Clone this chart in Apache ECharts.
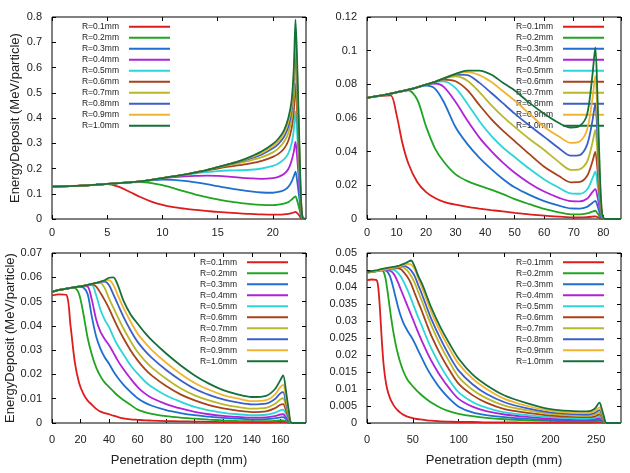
<!DOCTYPE html>
<html><head><meta charset="utf-8">
<script src="https://cdn.jsdelivr.net/npm/echarts@6/dist/echarts.min.js"></script>
<style>html,body{margin:0;padding:0;background:#fff}#c{width:630px;height:473px}</style>
</head><body><div id="c"></div>
<script>
const seriesNames = ['R=0.1mm','R=0.2mm','R=0.3mm','R=0.4mm','R=0.5mm','R=0.6mm','R=0.7mm','R=0.8mm','R=0.9mm','R=1.0mm'];
const seriesColors = ['#dd1c1c','#1fa51f','#1f6fd0','#b022d8','#2ad6d8','#a8421a','#b8b82a','#3a5fc8','#f0b430','#16703a'];

// Panel 1 (top-left)
const p1X = [0,2,4,5,6,7,8,9,10,11,12,13,14,15,16,17,18,19,20,20.5,21,21.4,21.7,21.9,22.05,22.2,22.4,22.55,22.7,23];
const p1R01 = [0.128,0.131,0.136,0.138,0.128,0.108,0.087,0.069,0.056,0.047,0.041,0.036,0.032,0.028,0.025,0.022,0.020,0.018,0.017,0.017,0.018,0.020,0.023,0.026,0.028,0.023,0.013,0.004,0.0005,0];
const p1R02 = [0.128,0.131,0.136,0.139,0.142,0.145,0.146,0.142,0.134,0.122,0.109,0.097,0.087,0.078,0.070,0.064,0.059,0.056,0.055,0.057,0.061,0.067,0.077,0.085,0.090,0.072,0.040,0.012,0.001,0];
const p1R03 = [0.128,0.131,0.136,0.139,0.142,0.145,0.149,0.153,0.156,0.155,0.151,0.145,0.138,0.130,0.122,0.115,0.109,0.105,0.104,0.107,0.114,0.127,0.148,0.170,0.188,0.150,0.080,0.022,0.002,0];
const p1R04 = [0.128,0.131,0.136,0.139,0.142,0.145,0.149,0.155,0.161,0.166,0.169,0.171,0.172,0.171,0.168,0.164,0.161,0.159,0.162,0.167,0.178,0.198,0.232,0.268,0.305,0.245,0.125,0.035,0.003,0];
const p1R05 = [0.128,0.131,0.136,0.139,0.142,0.145,0.149,0.155,0.162,0.169,0.175,0.181,0.186,0.190,0.192,0.193,0.195,0.200,0.210,0.220,0.236,0.260,0.300,0.355,0.425,0.340,0.170,0.045,0.003,0];
const p1R06 = [0.128,0.131,0.136,0.139,0.142,0.145,0.149,0.155,0.162,0.169,0.176,0.184,0.192,0.200,0.207,0.213,0.220,0.230,0.246,0.258,0.278,0.310,0.360,0.430,0.535,0.420,0.210,0.055,0.004,0];
const p1R07 = [0.128,0.131,0.136,0.139,0.142,0.145,0.149,0.155,0.162,0.169,0.176,0.185,0.194,0.204,0.213,0.222,0.232,0.245,0.264,0.280,0.305,0.340,0.400,0.490,0.610,0.480,0.235,0.062,0.004,0];
const p1R08 = [0.128,0.131,0.136,0.139,0.142,0.145,0.149,0.155,0.162,0.169,0.176,0.185,0.194,0.205,0.216,0.227,0.240,0.256,0.280,0.298,0.325,0.365,0.430,0.540,0.690,0.540,0.260,0.070,0.005,0];
const p1R09 = [0.128,0.131,0.136,0.139,0.142,0.145,0.149,0.155,0.162,0.169,0.176,0.185,0.194,0.205,0.217,0.229,0.244,0.262,0.288,0.308,0.338,0.385,0.450,0.570,0.745,0.580,0.280,0.075,0.005,0];
const p1R10 = [0.128,0.131,0.136,0.139,0.142,0.145,0.149,0.155,0.162,0.169,0.176,0.185,0.194,0.205,0.217,0.230,0.247,0.268,0.297,0.318,0.350,0.400,0.470,0.600,0.790,0.620,0.300,0.080,0.005,0];

// Panel 2 (top-right)
const p2X = [0,5,8,10,12,14,17,20,23,26,30,34,38,42,46,50,55,60,65,69,72,74.5,76.3,77.3,78,78.7,79.5,80.5,86];
const p2R01 = [0.0722,0.0732,0.0735,0.062,0.045,0.033,0.022,0.016,0.0125,0.0102,0.0085,0.0072,0.0062,0.0053,0.0045,0.0037,0.0028,0.002,0.0014,0.001,0.0009,0.0011,0.0014,0.0016,0.0012,0.0006,0.0001,0,0];
const p2R02 = [0.072,0.0735,0.0745,0.0752,0.076,0.0765,0.071,0.055,0.042,0.034,0.0265,0.0225,0.0198,0.0175,0.0148,0.0118,0.0088,0.006,0.004,0.0028,0.0027,0.0033,0.0044,0.0049,0.0035,0.0017,0.0003,0,0];
const p2R03 = [0.072,0.0735,0.0745,0.0752,0.076,0.0768,0.0782,0.0792,0.0775,0.0695,0.0545,0.0445,0.0365,0.0298,0.0238,0.0188,0.0143,0.0106,0.0079,0.0063,0.0062,0.0072,0.0095,0.0108,0.008,0.004,0.0006,0,0];
const p2R04 = [0.072,0.0735,0.0745,0.0752,0.076,0.0768,0.0782,0.0798,0.0805,0.0785,0.0695,0.0585,0.0485,0.0405,0.0335,0.0275,0.0213,0.0163,0.0126,0.0106,0.0105,0.012,0.016,0.0177,0.0135,0.007,0.001,0,0];
const p2R05 = [0.072,0.0735,0.0745,0.0752,0.076,0.0768,0.0782,0.0798,0.0815,0.0818,0.0778,0.0685,0.0582,0.0495,0.0425,0.0368,0.0298,0.0235,0.0186,0.0152,0.015,0.0175,0.024,0.0281,0.021,0.011,0.0015,0,0];
const p2R06 = [0.072,0.0735,0.0745,0.0752,0.076,0.0768,0.0782,0.0798,0.0815,0.0828,0.0818,0.0765,0.0678,0.0595,0.0525,0.0463,0.0385,0.031,0.0255,0.0218,0.022,0.0255,0.034,0.0399,0.03,0.015,0.002,0,0];
const p2R07 = [0.072,0.0735,0.0745,0.0752,0.076,0.0768,0.0782,0.0798,0.0815,0.0835,0.0848,0.0822,0.0755,0.0678,0.0608,0.0547,0.0475,0.041,0.0338,0.0292,0.0295,0.034,0.045,0.053,0.04,0.02,0.003,0,0];
const p2R08 = [0.072,0.0735,0.0745,0.0752,0.076,0.0768,0.0782,0.0798,0.0815,0.0835,0.0858,0.0855,0.081,0.075,0.0688,0.0626,0.0555,0.0488,0.042,0.0376,0.038,0.044,0.058,0.0685,0.05,0.025,0.003,0,0];
const p2R09 = [0.072,0.0735,0.0745,0.0752,0.076,0.0768,0.0782,0.0798,0.0815,0.0835,0.0862,0.0872,0.0855,0.0815,0.076,0.0704,0.0625,0.0547,0.049,0.0452,0.046,0.053,0.071,0.085,0.062,0.03,0.004,0,0];
const p2R10 = [0.072,0.0735,0.0745,0.0752,0.076,0.0768,0.0782,0.0798,0.0815,0.0835,0.0862,0.0882,0.0882,0.0858,0.081,0.0763,0.069,0.0625,0.057,0.0543,0.0552,0.062,0.085,0.102,0.075,0.035,0.005,0,0];

// Panel 3 (bottom-left)
const p3X = [0,5,10,13,16,19,22,25,28,31,34,37,40,43,46,50,55,60,65,70,80,90,100,110,120,130,140,150,156,160,162,164,166,168,178];
const p3R01 = [0.0525,0.053,0.0528,0.040,0.025,0.0165,0.012,0.0092,0.0075,0.0058,0.0047,0.0041,0.0036,0.003,0.0025,0.0019,0.0015,0.0013,0.0011,0.001,0.0008,0.0007,0.0006,0.0005,0.0004,0.0004,0.0003,0.0003,0.0004,0.0005,0.0005,0.0004,0.0002,0,0];
const p3R02 = [0.054,0.0548,0.0553,0.0556,0.0555,0.053,0.045,0.035,0.028,0.0228,0.0192,0.0166,0.0148,0.013,0.0113,0.0095,0.0075,0.0055,0.0045,0.0038,0.0028,0.0022,0.0018,0.0014,0.0011,0.0009,0.0008,0.0008,0.0009,0.0011,0.0011,0.0008,0.0004,0,0];
const p3R03 = [0.054,0.0548,0.0553,0.0556,0.0559,0.0561,0.0558,0.053,0.0435,0.0355,0.0305,0.027,0.0244,0.0213,0.0187,0.0158,0.0128,0.0102,0.0084,0.0071,0.0053,0.0041,0.0032,0.0026,0.0021,0.0018,0.0015,0.0016,0.0019,0.0023,0.0024,0.0016,0.0007,0,0];
const p3R04 = [0.054,0.0548,0.0553,0.0556,0.0559,0.0562,0.0564,0.0562,0.0505,0.0425,0.0375,0.0345,0.032,0.029,0.0258,0.0222,0.0183,0.0148,0.0122,0.0103,0.0078,0.006,0.0046,0.0036,0.0029,0.0025,0.0022,0.0023,0.0028,0.0035,0.0036,0.0024,0.001,0,0];
const p3R05 = [0.054,0.0548,0.0553,0.0556,0.0559,0.0562,0.0565,0.0568,0.0568,0.0525,0.0465,0.0425,0.0395,0.0355,0.032,0.0283,0.0238,0.0203,0.0172,0.0148,0.0113,0.0088,0.0066,0.0052,0.0042,0.0036,0.0032,0.0034,0.0042,0.0052,0.0055,0.0037,0.0015,0,0];
const p3R06 = [0.054,0.0548,0.0553,0.0556,0.0559,0.0562,0.0565,0.0569,0.0571,0.0562,0.0535,0.0505,0.0471,0.0432,0.0395,0.035,0.03,0.0258,0.0223,0.0195,0.0152,0.0118,0.0093,0.0074,0.006,0.0051,0.0045,0.0048,0.006,0.0075,0.0078,0.0052,0.002,0,0];
const p3R07 = [0.054,0.0548,0.0553,0.0556,0.0559,0.0562,0.0565,0.0569,0.0573,0.0576,0.0576,0.0555,0.0512,0.0475,0.0438,0.039,0.0338,0.0292,0.0257,0.0228,0.0182,0.0143,0.0114,0.0093,0.0077,0.0066,0.0059,0.0062,0.0078,0.0097,0.0102,0.0068,0.0027,0,0];
const p3R08 = [0.054,0.0548,0.0553,0.0556,0.0559,0.0562,0.0565,0.0569,0.0573,0.0577,0.0581,0.0582,0.0567,0.053,0.049,0.0438,0.0382,0.0334,0.0298,0.0268,0.0218,0.0176,0.0141,0.0116,0.0097,0.0085,0.0077,0.008,0.0098,0.0122,0.0127,0.0085,0.0033,0,0];
const p3R09 = [0.054,0.0548,0.0553,0.0556,0.0559,0.0562,0.0565,0.0569,0.0573,0.0577,0.0582,0.0587,0.0588,0.0568,0.0528,0.0475,0.0418,0.0368,0.0332,0.03,0.0248,0.0203,0.0165,0.0137,0.0115,0.0101,0.009,0.0094,0.0116,0.0148,0.0157,0.0105,0.004,0,0];
const p3R10 = [0.054,0.0548,0.0553,0.0556,0.0559,0.0562,0.0565,0.0569,0.0573,0.0577,0.0582,0.0588,0.0598,0.06,0.057,0.0505,0.0448,0.0409,0.0372,0.034,0.0286,0.0238,0.0196,0.0162,0.0135,0.0118,0.0107,0.0112,0.0138,0.0176,0.0196,0.013,0.005,0,0];

// Panel 4 (bottom-right)
const p4X = [0,5,10,12,14,16,18,20,22,25,28,31,34,37,40,44,48,52,56,60,65,70,80,90,100,115,130,150,175,200,225,240,248,253.5,256,258.5,261,277];
const p4R01 = [0.042,0.0422,0.0421,0.0405,0.034,0.025,0.0175,0.013,0.01,0.0074,0.0057,0.0045,0.0036,0.0029,0.0024,0.0019,0.0016,0.0013,0.0011,0.001,0.0008,0.0007,0.0005,0.0004,0.0003,0.0003,0.0002,0.0002,0.0001,0.0001,0.0001,0.0001,0.0002,0.0002,0.0001,0.0001,0,0];
const p4R02 = [0.0442,0.0444,0.0446,0.0447,0.0448,0.0448,0.0445,0.0428,0.0395,0.0335,0.028,0.0235,0.02,0.0172,0.015,0.0128,0.0114,0.0102,0.0091,0.0081,0.007,0.006,0.0045,0.0034,0.0027,0.002,0.0015,0.0011,0.0008,0.0006,0.0005,0.0005,0.0005,0.0006,0.0004,0.0002,0,0];
const p4R03 = [0.0443,0.0445,0.0447,0.0448,0.0449,0.045,0.045,0.0449,0.0446,0.0432,0.0405,0.0372,0.034,0.0313,0.0292,0.0272,0.0255,0.0235,0.0212,0.019,0.0163,0.014,0.0101,0.0071,0.0048,0.0031,0.0023,0.0017,0.0012,0.0009,0.0007,0.0007,0.0008,0.001,0.0007,0.0003,0,0];
const p4R04 = [0.0443,0.0445,0.0447,0.0448,0.0449,0.045,0.045,0.045,0.045,0.0448,0.0442,0.043,0.0412,0.0392,0.0372,0.0345,0.0319,0.0292,0.0265,0.024,0.0211,0.0184,0.0138,0.0101,0.0071,0.0048,0.0035,0.0025,0.0018,0.0013,0.001,0.001,0.0011,0.0014,0.001,0.0004,0,0];
const p4R05 = [0.0443,0.0445,0.0447,0.0448,0.0449,0.045,0.0451,0.0452,0.0452,0.0452,0.0451,0.0448,0.0441,0.043,0.0415,0.0392,0.0366,0.0337,0.031,0.0284,0.0251,0.022,0.0168,0.0125,0.009,0.0062,0.0045,0.0031,0.0023,0.0017,0.0014,0.0013,0.0015,0.0019,0.0014,0.0006,0,0];
const p4R06 = [0.0443,0.0445,0.0447,0.0448,0.0449,0.045,0.0451,0.0452,0.0453,0.0454,0.0455,0.0455,0.0455,0.0452,0.0444,0.043,0.041,0.0382,0.0355,0.0328,0.0292,0.0258,0.0202,0.0155,0.0115,0.0082,0.006,0.0041,0.003,0.0022,0.0018,0.0017,0.0019,0.0025,0.0018,0.0007,0,0];
const p4R07 = [0.0443,0.0445,0.0447,0.0448,0.0449,0.045,0.0451,0.0452,0.0453,0.0455,0.0456,0.0457,0.0458,0.0459,0.0457,0.0448,0.0433,0.0412,0.0385,0.0358,0.0322,0.0288,0.0229,0.0179,0.0135,0.0098,0.0073,0.0051,0.0037,0.0027,0.0022,0.0021,0.0024,0.0031,0.0022,0.0009,0,0];
const p4R08 = [0.0443,0.0445,0.0447,0.0448,0.0449,0.045,0.0451,0.0452,0.0453,0.0455,0.0456,0.0457,0.0459,0.0461,0.0462,0.0458,0.0449,0.0432,0.0405,0.0378,0.0342,0.0307,0.0248,0.0197,0.0154,0.0114,0.0086,0.0061,0.0043,0.0031,0.0026,0.0025,0.0029,0.0038,0.0027,0.0011,0,0];
const p4R09 = [0.0443,0.0445,0.0447,0.0448,0.0449,0.045,0.0451,0.0452,0.0453,0.0455,0.0456,0.0458,0.046,0.0462,0.0465,0.0468,0.0466,0.0452,0.0425,0.0398,0.0362,0.0327,0.0268,0.0218,0.0174,0.0131,0.0101,0.0071,0.005,0.0036,0.003,0.0029,0.0034,0.0046,0.0033,0.0014,0,0];
const p4R10 = [0.0444,0.0447,0.0449,0.045,0.0452,0.0453,0.0454,0.0455,0.0456,0.0458,0.0459,0.046,0.0462,0.0465,0.0468,0.0473,0.0478,0.046,0.0432,0.041,0.0375,0.034,0.0282,0.0233,0.0189,0.0143,0.0112,0.0081,0.0058,0.0041,0.0035,0.0034,0.0041,0.006,0.0042,0.0018,0,0];

const yTitle = 'EnergyDeposit (MeV/particle)';
const xTitle = 'Penetration depth (mm)';

const FONT = '"Liberation Sans", Arial, Helvetica, sans-serif';
const TXT = '#222';

const panels = [
  {x: p1X, ys: [p1R01,p1R02,p1R03,p1R04,p1R05,p1R06,p1R07,p1R08,p1R09,p1R10],
   grid: {left: 52, top: 17, width: 254, height: 202}, xMax: 23, xInt: 5, yMax: 0.8, yInt: 0.1,
   legend: {right: 460, top: 21.2}, xMargin: 8, yName: true, xName: false},
  {x: p2X, ys: [p2R01,p2R02,p2R03,p2R04,p2R05,p2R06,p2R07,p2R08,p2R09,p2R10],
   grid: {left: 367, top: 17, width: 254, height: 202}, xMax: 86, xInt: 10, yMax: 0.12, yInt: 0.02,
   legend: {right: 26, top: 21.2}, xMargin: 8, yName: false, xName: false},
  {x: p3X, ys: [p3R01,p3R02,p3R03,p3R04,p3R05,p3R06,p3R07,p3R08,p3R09,p3R10],
   grid: {left: 52, top: 253, width: 254, height: 170}, xMax: 178, xInt: 20, yMax: 0.07, yInt: 0.01,
   legend: {right: 342, top: 256.8}, xMargin: 11, yName: true, xName: true},
  {x: p4X, ys: [p4R01,p4R02,p4R03,p4R04,p4R05,p4R06,p4R07,p4R08,p4R09,p4R10],
   grid: {left: 367, top: 253, width: 254, height: 170}, xMax: 277, xInt: 50, yMax: 0.05, yInt: 0.005,
   legend: {right: 26, top: 256.8}, xMargin: 11, yName: false, xName: true}
];

const option = {
  animation: false,
  backgroundColor: '#fff',
  grid: [], xAxis: [], yAxis: [], legend: [], series: []
};

const tickStyle = {show: true, inside: true, length: 4, lineStyle: {color: '#000', width: 1}};

panels.forEach((p, i) => {
  option.grid.push(Object.assign({show: true, borderColor: '#000', borderWidth: 1, backgroundColor: 'transparent'}, p.grid));
  option.xAxis.push({
    type: 'value', gridIndex: i, min: 0, max: p.xMax, interval: p.xInt, position: 'bottom',
    axisLine: {show: false, onZero: false}, axisTick: tickStyle, splitLine: {show: false},
    axisLabel: {margin: p.xMargin, fontSize: 11, color: TXT, fontFamily: FONT, showMaxLabel: false},
    name: p.xName ? xTitle : '', nameLocation: 'middle', nameGap: 31,
    nameTextStyle: {fontSize: 13, color: TXT, fontFamily: FONT}
  });
  option.xAxis.push({
    type: 'value', gridIndex: i, min: 0, max: p.xMax, interval: p.xInt, position: 'top',
    axisLine: {show: false, onZero: false}, axisTick: tickStyle, splitLine: {show: false},
    axisLabel: {show: false}
  });
  option.yAxis.push({
    type: 'value', gridIndex: i, min: 0, max: p.yMax, interval: p.yInt, position: 'left',
    axisLine: {show: false, onZero: false}, axisTick: tickStyle, splitLine: {show: false},
    axisLabel: {margin: 10, fontSize: 11, color: TXT, fontFamily: FONT},
    name: p.yName ? yTitle : '', nameLocation: 'middle', nameGap: 30, nameRotate: 90,
    nameTextStyle: {fontSize: 13, color: TXT, fontFamily: FONT}
  });
  option.yAxis.push({
    type: 'value', gridIndex: i, min: 0, max: p.yMax, interval: p.yInt, position: 'right',
    axisLine: {show: false, onZero: false}, axisTick: tickStyle, splitLine: {show: false},
    axisLabel: {show: false}
  });
  option.legend.push({
    data: seriesNames, orient: 'vertical', align: 'right', right: p.legend.right, top: p.legend.top,
    padding: 0, itemGap: 0, itemWidth: 41, itemHeight: 2, icon: 'rect', selectedMode: false, z: 1,
    textStyle: {fontSize: 8.5, lineHeight: 11, color: TXT, fontFamily: FONT, padding: [0, 5, 0, 0]}
  });
  p.ys.forEach((ys, k) => {
    option.series.push({
      type: 'line', name: seriesNames[k], xAxisIndex: 2 * i, yAxisIndex: 2 * i,
      data: p.x.map((xv, j) => [xv, ys[j]]),
      showSymbol: false, symbol: 'none', smooth: 0.3, clip: true, z: 3,
      lineStyle: {width: 1.8, color: seriesColors[k]},
      itemStyle: {color: seriesColors[k]},
      emphasis: {disabled: true}
    });
  });
});

const chart = echarts.init(document.getElementById('c'), null, {renderer: 'canvas'});
chart.setOption(option);
</script>
</body></html>
